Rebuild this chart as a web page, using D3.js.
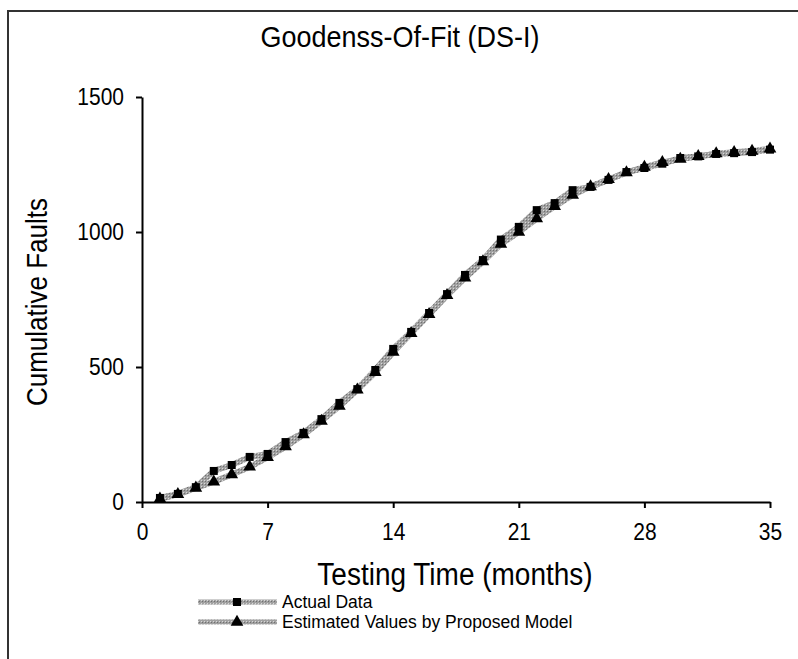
<!DOCTYPE html>
<html>
<head>
<meta charset="utf-8">
<script src="https://cdn.jsdelivr.net/npm/d3@7"></script>
<style>
  body { margin: 0; background: #fff; }
  text { font-family: "Liberation Sans", Arial, sans-serif; fill: #000; }
</style>
</head>
<body>
<svg width="798" height="659"></svg>
<script>
// data
var months = d3.range(1, 36);
var actualData = [15, 30, 55, 115, 137, 167, 178, 222, 256, 307, 367, 418, 489, 567, 630, 700, 770, 841, 896, 972,
                  1019, 1081, 1107, 1155, 1167, 1193, 1222, 1237, 1253, 1274, 1280, 1289, 1292, 1296, 1305];
var estimated = [12, 28, 52, 75, 102, 130, 165, 205, 250, 300, 355, 415, 480, 555, 625, 695, 765, 830, 890, 955,
                 1000, 1050, 1095, 1137, 1168, 1195, 1220, 1240, 1258, 1270, 1280, 1290, 1295, 1300, 1308];
var xTicks = [0, 7, 14, 21, 28, 35];
var yTicks = [0, 500, 1000, 1500];
var seriesNames = ["Actual Data", "Estimated Values by Proposed Model"];

var svg = d3.select("svg");

// gray textured line like the original
var defs = svg.append("defs");
var pat = defs.append("pattern").attr("id", "tex").attr("width", 3).attr("height", 3)
    .attr("patternUnits", "userSpaceOnUse");
pat.append("rect").attr("width", 3).attr("height", 3).attr("fill", "#a0a0a0");
pat.append("rect").attr("width", 1).attr("height", 1).attr("fill", "#d8d8d8");
pat.append("rect").attr("x", 1).attr("y", 1).attr("width", 1).attr("height", 1).attr("fill", "#707070");

// outer frame (top + left only visible)
svg.append("path").attr("d", "M8,659V11H798").attr("fill", "none").attr("stroke", "#333").attr("stroke-width", 2);

var x = d3.scaleLinear().domain([0, 35]).range([142, 770]);
var y = d3.scaleLinear().domain([0, 1500]).range([502, 97]);

var xAxis = svg.append("g").attr("transform", "translate(0,502)")
    .call(d3.axisBottom(x).tickValues(xTicks).tickSize(6).tickPadding(14).tickSizeOuter(0));
var yAxis = svg.append("g").attr("transform", "translate(142,0)")
    .call(d3.axisLeft(y).tickValues(yTicks).tickFormat(d3.format("d")).tickSize(6).tickPadding(12).tickSizeOuter(0));

[xAxis, yAxis].forEach(function(a) {
  a.select(".domain").attr("stroke", "#000").attr("stroke-width", 2);
  a.selectAll(".tick line").attr("stroke", "#000").attr("stroke-width", 2);
  a.selectAll(".tick text").style("font-size", "21px").attr("fill", "#000");
});
// the original text looks a bit tall and narrow
xAxis.selectAll(".tick text").attr("transform", "scale(1,1.1)");
yAxis.selectAll(".tick text").attr("transform", "scale(1,1.1)");

svg.append("text").attr("transform", "translate(400,47) scale(1,1.12)").attr("text-anchor", "middle")
  .style("font-size", "27px").text("Goodenss-Of-Fit (DS-I)");
svg.append("text").attr("transform", "translate(455,585) scale(1,1.1)").attr("text-anchor", "middle")
  .style("font-size", "28px").text("Testing Time (months)");
svg.append("text").attr("transform", "translate(47,302) rotate(-90) scale(1,1.1)").attr("text-anchor", "middle")
  .style("font-size", "26px").text("Cumulative Faults");

var line = d3.line()
    .x(function(d, i) { return x(months[i]); })
    .y(function(d) { return y(d); });

var series = [actualData, estimated];
series.forEach(function(s) {
  svg.append("path").datum(s).attr("d", line)
    .attr("fill", "none").attr("stroke", "url(#tex)").attr("stroke-width", 6)
    .attr("stroke-linejoin", "round");
});

var sq = d3.symbol().type(d3.symbolSquare).size(64);
var tri = d3.symbol().type(d3.symbolTriangle).size(70);
var shapes = [sq, tri];

series.forEach(function(s, k) {
  svg.append("g").selectAll("path").data(s).enter().append("path")
    .attr("d", shapes[k])
    .attr("transform", function(d, i) { return "translate(" + x(months[i]) + "," + y(d) + ")"; })
    .attr("fill", "#000");
});

// legend
var leg = svg.append("g");
seriesNames.forEach(function(name, k) {
  var ly = 602 + k * 20;
  leg.append("line").attr("x1", 198).attr("x2", 277).attr("y1", ly).attr("y2", ly)
    .attr("stroke", "url(#tex)").attr("stroke-width", 5);
  leg.append("path").attr("d", shapes[k]).attr("transform", "translate(237," + ly + ")").attr("fill", "#000");
  leg.append("text").attr("transform", "translate(282," + (ly + 6) + ") scale(1,1.08)")
    .style("font-size", "17.5px").text(name);
});
</script>
</body>
</html>
